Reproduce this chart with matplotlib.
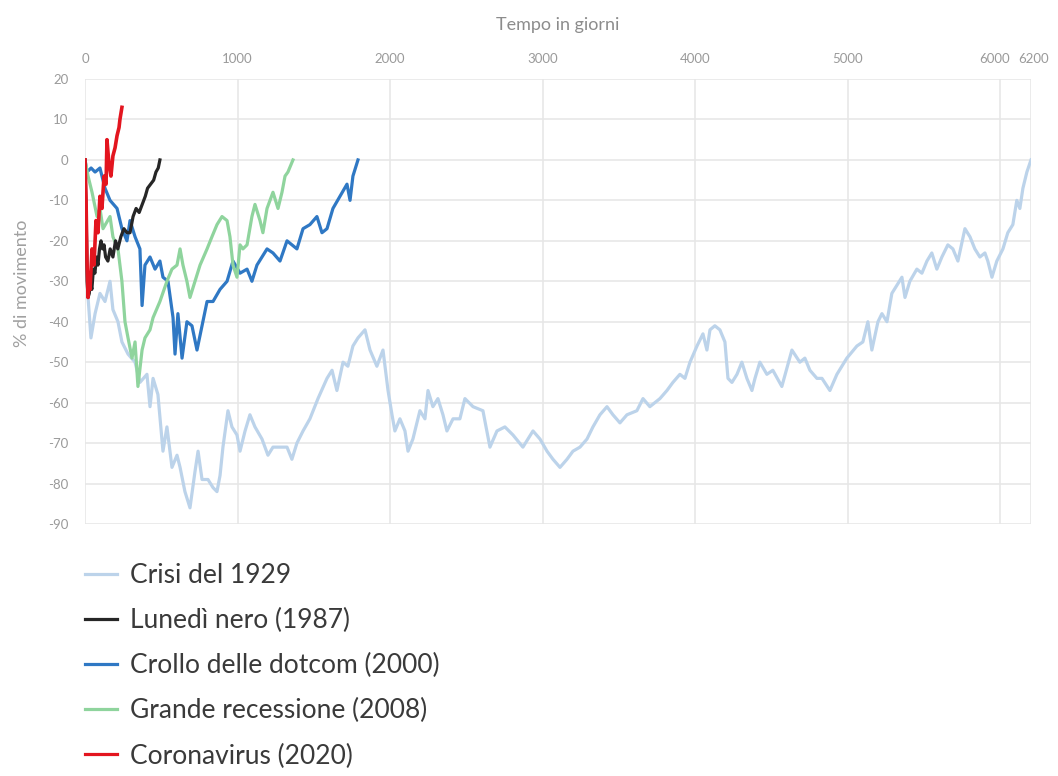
import matplotlib
matplotlib.use("Agg")
import matplotlib.pyplot as plt
from matplotlib.lines import Line2D
from matplotlib.transforms import ScaledTranslation

plt.rcParams['font.family'] = ['Lato', 'DejaVu Sans']
plt.rcParams['axes.unicode_minus'] = False

# ---- data: days since the previous peak, % move from that peak ----
crisi_1929_days = [0, 20, 39, 66, 98, 131, 164, 183, 216, 242, 282, 328, 360, 406, 426, 446, 478,
                   511, 537, 570, 603, 623, 655, 688, 721, 741, 767, 806, 839, 865, 885, 904, 937,
                   963, 996, 1016, 1049, 1081, 1114, 1160, 1199, 1232, 1278, 1324, 1356, 1389,
                   1429, 1474, 1527, 1586, 1619, 1651, 1691, 1723, 1756, 1789, 1835, 1868, 1913,
                   1953, 1986, 2012, 2031, 2064, 2097, 2117, 2149, 2195, 2228, 2248, 2280, 2313,
                   2346, 2372, 2412, 2457, 2490, 2543, 2608, 2654, 2700, 2752, 2805, 2870, 2936,
                   2982, 3028, 3067, 3113, 3159, 3198, 3244, 3290, 3329, 3375, 3421, 3460, 3506,
                   3552, 3617, 3657, 3702, 3768, 3814, 3853, 3899, 3932, 3965, 4011, 4050, 4076,
                   4096, 4128, 4161, 4194, 4214, 4240, 4273, 4305, 4338, 4371, 4391, 4423, 4469,
                   4508, 4567, 4633, 4685, 4718, 4751, 4797, 4830, 4882, 4928, 4993, 5059, 5098,
                   5131, 5157, 5197, 5223, 5256, 5288, 5321, 5354, 5374, 5406, 5452, 5485, 5518,
                   5550, 5583, 5616, 5655, 5688, 5721, 5767, 5800, 5832, 5865, 5898, 5917, 5944,
                   5976, 6016, 6048, 6081, 6107, 6127, 6147, 6173, 6200]
crisi_1929_pct = [0, -34, -44, -38, -33, -35, -30, -37, -40, -45, -48, -50, -55, -53, -61, -54, -58,
                  -72, -66, -76, -73, -76, -82, -86, -77, -72, -79, -79, -81, -82, -78, -71, -62,
                  -66, -68, -72, -67, -63, -66, -69, -73, -71, -71, -71, -74, -70,
                  -67, -64, -59, -54, -52, -57, -50, -51, -46, -44, -42, -47, -51,
                  -47, -57, -63, -67, -64, -67, -72, -69, -62, -64, -57, -61, -59,
                  -63, -67, -64, -64, -59, -61, -62, -71, -67, -66, -68, -71, -67,
                  -69, -72, -74, -76, -74, -72, -71, -69, -66, -63, -61, -63, -65,
                  -63, -62, -59, -61, -59, -57, -55, -53, -54, -50, -46, -43, -47,
                  -42, -41, -42, -45, -54, -55, -53, -50, -54, -57, -54, -50, -53,
                  -52, -56, -47, -50, -49, -52, -54, -54, -57, -53, -49, -46, -45,
                  -40, -47, -40, -38, -40, -33, -31, -29, -34, -30, -27, -28, -25,
                  -23, -27, -24, -21, -22, -25, -17, -19, -22, -24, -23, -25, -29,
                  -25, -22, -18, -16, -10, -12, -7, -3, 0]

lunedi_nero_days = [0, 8, 14, 20, 28, 35, 45, 55, 65, 75, 85, 95, 105, 115, 125, 135, 150, 165,
                    183, 200, 215, 235, 255, 275, 295, 315, 335, 355, 375, 395, 410, 430, 450,
                    465, 480, 491]
lunedi_nero_pct = [0, -15, -30, -34, -33, -30, -32, -27, -28, -24, -26, -22, -20, -22, -21, -24,
                   -25, -22, -24, -20, -22, -19, -17, -18, -18, -14, -12, -13, -11, -9, -7, -6,
                   -5, -3, -2, 0]

dotcom_days = [0, 13, 40, 66, 98, 131, 164, 210, 242, 275, 295, 328, 360, 374, 393, 426, 459,
               491, 511, 544, 577, 590, 609, 636, 668, 701, 734, 767, 800, 839, 885, 931, 970,
               1016, 1062, 1094, 1127, 1193, 1232, 1278, 1324, 1389, 1429, 1474, 1520, 1553,
               1586, 1625, 1671, 1717, 1737, 1756, 1789]
dotcom_pct = [0, -3, -2, -3, -2, -7, -10, -12, -17, -20, -15, -19, -22, -36, -26, -24, -27,
              -25, -29, -30, -39, -48, -38, -49, -40, -41, -47, -41, -35, -35, -32, -30, -25,
              -28, -27, -30, -26, -22, -23, -25, -20, -22, -17, -16, -14, -18,
              -17, -12, -9, -6, -10, -4, 0]

recessione_days = [0, 20, 46, 79, 98, 118, 164, 183, 216, 242, 262, 282, 308, 328, 347, 374,
                   393, 426, 446, 491, 537, 570, 603, 623, 642, 668, 688, 721, 754, 800, 832,
                   865, 898, 931, 950, 970, 996, 1016, 1035, 1062, 1094, 1114, 1147, 1166,
                   1193, 1232, 1265, 1291, 1311, 1330, 1363]
recessione_pct = [0, -4, -8, -14, -12, -17, -14, -19, -22, -30, -40, -44, -49, -45, -56, -47,
                  -44, -42, -39, -35, -30, -27, -26, -22, -26, -30, -34, -30, -26, -22, -19,
                  -16, -14, -15, -19, -26, -29, -21, -22, -21, -14, -11, -15, -18,
                  -12, -8, -12, -8, -4, -3, 0]

corona_days = [0, 7, 13, 20, 26, 33, 46, 59, 72, 85, 98, 111, 125, 138, 144, 157, 170, 183,
               197, 210, 223, 229, 242]
corona_pct = [0, -10, -25, -34, -30, -32, -22, -26, -15, -18, -9, -12, -4, -6, 5, -1, -4, 1,
              3, 6, 8, 10, 13]

labels = ["Crisi del 1929", "Lunedì nero (1987)", "Crollo delle dotcom (2000)",
          "Grande recessione (2008)", "Coronavirus (2020)"]
x_ticks = [0, 1000, 2000, 3000, 4000, 5000, 6000, 6200]
y_ticks = list(range(-90, 21, 10))

c_1929 = "#bcd3ea"
c_1987 = "#262626"
c_2000 = "#2f78c4"
c_2008 = "#8fd49d"
c_2020 = "#e3151f"

fig = plt.figure(figsize=(10.58, 7.76), dpi=100)
ax = fig.add_axes([85 / 1058, 1 - 524 / 776, 946 / 1058, 445 / 776])

lw = 2.3
ax.plot(crisi_1929_days, crisi_1929_pct, color=c_1929, lw=lw, zorder=2)
ax.plot(dotcom_days, dotcom_pct, color=c_2000, lw=lw, zorder=3)
ax.plot(recessione_days, recessione_pct, color=c_2008, lw=lw, zorder=4)
ax.plot(lunedi_nero_days, lunedi_nero_pct, color=c_1987, lw=lw, zorder=5)
ax.plot(corona_days, corona_pct, color=c_2020, lw=2.6, zorder=6)

ax.set_xlim(0, 6200)
ax.set_ylim(-90, 20)
ax.set_xticks(x_ticks)
ax.set_yticks(y_ticks)
ax.xaxis.tick_top()
ax.xaxis.set_label_position('top')
ax.grid(True, color="#e6e6e6", lw=1.1, zorder=0)
ax.set_axisbelow(True)
for s in ax.spines.values():
    s.set_visible(False)
ax.tick_params(axis='both', length=0, labelsize=9.5, labelcolor="#9a9a9a")
ax.tick_params(axis='x', pad=10)
ax.tick_params(axis='y', pad=12)

# keep the two closely spaced end labels apart
xlabels = ax.get_xticklabels()
xlabels[-2].set_transform(xlabels[-2].get_transform() + ScaledTranslation(-6 / 100, 0, fig.dpi_scale_trans))
xlabels[-1].set_transform(xlabels[-1].get_transform() + ScaledTranslation(3 / 100, 0, fig.dpi_scale_trans))

ax.set_xlabel("Tempo in giorni", fontsize=13, color="#8c8c8c", labelpad=17)
ax.set_ylabel("% di movimento", fontsize=13, color="#a0a0a0")
ax.yaxis.set_label_coords(-0.058, 0.54)

handles = [Line2D([], [], color=c, lw=2.3) for c in (c_1929, c_1987, c_2000, c_2008, c_2020)]
fig.legend(handles, labels, loc='upper left', bbox_to_anchor=(85 / 1058, 1 - 563 / 776),
           frameon=False, fontsize=19, labelcolor="#3a3a3a", handlelength=1.2,
           handletextpad=0.5, labelspacing=0.76, borderpad=0, borderaxespad=0)

fig.savefig("out.png", dpi=100, facecolor="white")
